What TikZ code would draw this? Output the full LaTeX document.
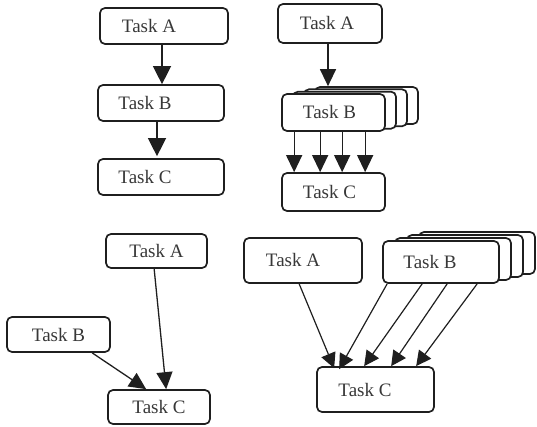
\documentclass[tikz,border=0pt]{standalone}
\usepackage{fontspec}
\setmainfont{Liberation Serif}
\usetikzlibrary{arrows.meta}
\newcommand{\shiftpad}[1]{\rule{#1}{0pt}}
\begin{document}
\begin{tikzpicture}[x=1pt,y=-1pt,
  box/.style={draw=black!88, line width=1.7pt, rounded corners=5pt, fill=white, inner sep=0pt,
    font=\fontsize{19}{21}\selectfont, text=black!78},
  conn/.style={draw=black!88, line width=1.4pt, -{Triangle[width=18pt,length=18pt]}},
  connM/.style={draw=black!88, line width=1.3pt, -{Triangle[width=16pt,length=17pt]}},
  connS/.style={draw=black!88, line width=1.2pt, -{Triangle[width=15pt,length=15pt]}}
]
\useasboundingbox (0,0) rectangle (537,427);
% ---------- panel 1 ----------
\node[box, minimum width=128pt, minimum height=36pt] (a1) at (164,26) {Task A\shiftpad{30pt}};
\node[box, minimum width=126pt, minimum height=36pt] (b1) at (161,103) {Task B\shiftpad{32pt}};
\node[box, minimum width=126pt, minimum height=36pt] (c1) at (161,177) {Task C\shiftpad{32pt}};
\draw[conn] ([xshift=-2pt]a1.south) -- ([xshift=-2pt]a1.south |- b1.north);
\draw[conn] ([xshift=-4pt]b1.south) -- ([xshift=-4pt,yshift=2pt]b1.south |- c1.north);
% ---------- panel 2 ----------
\node[box, minimum width=104pt, minimum height=39pt] (a2) at (330,23.5) {Task A\shiftpad{6pt}};
\node[box, minimum width=103pt, minimum height=37pt] (b2d) at (366.5,105.5) {};
\node[box, minimum width=103pt, minimum height=37pt] (b2c) at (355.5,107.8) {};
\node[box, minimum width=103pt, minimum height=37pt] (b2b) at (344.5,110.2) {};
\node[box, minimum width=103pt, minimum height=37pt] (b2) at (333.5,112.5) {Task B\shiftpad{8pt}};
\node[box, minimum width=103pt, minimum height=38pt] (c2) at (333.5,192) {Task C\shiftpad{8pt}};
\draw[connM] ([xshift=-2pt]a2.south) -- ([xshift=-38.5pt]b2d.north);
\foreach \dx in {13,39,61,84}{
  \draw[connM] ([xshift=\dx pt]b2.south west) -- ([xshift=\dx pt]c2.north west);
}
% ---------- panel 3 ----------
\node[box, minimum width=101pt, minimum height=34pt] (a3) at (156.5,251) {Task A};
\node[box, minimum width=103pt, minimum height=35pt] (b3) at (58.5,334.5) {Task B};
\node[box, minimum width=102pt, minimum height=34pt] (c3) at (159,407) {Task C};
\draw[connM] ([xshift=49pt]a3.south west) -- ([xshift=59pt]c3.north west);
\draw[connM] ([xshift=86pt]b3.south west) -- ([xshift=39pt]c3.north west);
% ---------- panel 4 ----------
\node[box, minimum width=118pt, minimum height=45pt] (a4) at (303,260.5) {Task A\shiftpad{20pt}};
\node[box, minimum width=116pt, minimum height=42pt] (b4d) at (477,253) {};
\node[box, minimum width=116pt, minimum height=42pt] (b4c) at (465,256) {};
\node[box, minimum width=116pt, minimum height=42pt] (b4b) at (453,259) {};
\node[box, minimum width=116pt, minimum height=42pt] (b4) at (441,262) {Task B\shiftpad{22pt}};
\node[box, minimum width=117pt, minimum height=45pt] (c4) at (375.5,389.5) {Task C\shiftpad{21pt}};
\draw[connS] ([xshift=56pt]a4.south west) -- ([xshift=18pt,yshift=-2pt]c4.north west);
\draw[connS] ([xshift=5pt]b4.south west) -- ([xshift=23pt,yshift=-3pt]c4.north west);
\draw[connS] ([xshift=40pt]b4.south west) -- ([xshift=48pt]c4.north west);
\draw[connS] ([xshift=65pt]b4.south west) -- ([xshift=75pt]c4.north west);
\draw[connS] ([xshift=95pt]b4.south west) -- ([xshift=100pt]c4.north west);
\end{tikzpicture}
\end{document}
